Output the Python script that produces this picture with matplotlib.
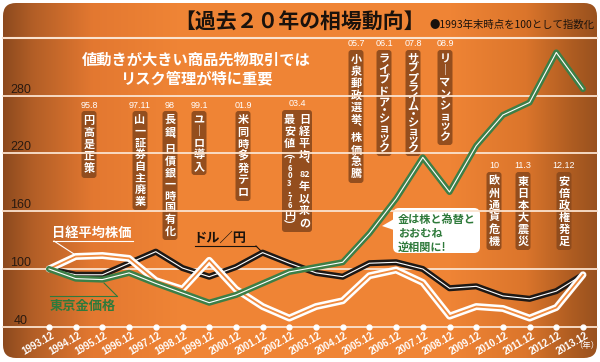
import re
import matplotlib.pyplot as plt
import numpy as np
from matplotlib.patches import FancyBboxPatch, Polygon

plt.rcParams['font.family'] = ['Noto Sans CJK JP', 'DejaVu Sans']

## Data (index, 1993.12 = 100)
years = ["1993.12", "1994.12", "1995.12", "1996.12", "1997.12", "1998.12", "1999.12",
         "2000.12", "2001.12", "2002.12", "2003.12", "2004.12", "2005.12", "2006.12",
         "2007.12", "2008.12", "2009.12", "2010.12", "2011.12", "2012.12", "2013.12"]
nikkei = [100, 113, 114, 111, 88, 79, 109, 79, 61, 49, 61, 67, 93, 99, 86, 51, 61, 59, 49, 60, 94]
dollar = [100, 94, 94, 106, 118, 101, 92, 102, 117, 106, 96, 92, 106, 107, 100, 80, 82, 72, 69, 77, 94]
gold = [100, 90, 89, 96, 85, 75, 65, 73, 85, 97, 102, 107, 137, 173, 216, 180, 228, 260, 273, 325, 287]
grid_values = [40, 100, 160, 220, 280]

event_dates = ["95.8", "97.11", "98", "99.1", "01.9", "03.4", "05.7", "06.1", "07.8",
               "08.9", "10", "11.3", "12.12"]
event_texts = ["円高是正策", "山一証券自主廃業", "長銀、日債銀一時国有化", "ユーロ導入",
               "米同時多発テロ", "日経平均、82年以来の|最安値（7603.76円）",
               "小泉郵政選挙、株価急騰", "ライブドア・ショック", "サブプライム・ショック",
               "リーマンショック", "欧州通貨危機", "東日本大震災", "安倍政権発足"]

## Layout of the event boxes in pixels: x centre, top, bottom
event_pos = [(89, 111, 178), (140, 111, 210), (170, 111, 240), (199, 111, 175),
             (243, 111, 201), (297, 110, 232), (356, 50, 183), (384, 50, 156),
             (413, 50, 156), (445, 50, 145), (494, 172, 250), (523, 172, 250),
             (564, 172, 250)]

W, H = 600, 362
fig = plt.figure(figsize=(W / 100, H / 100), dpi=100)

## Background panel (pixel coordinates)
bg = fig.add_axes([0, 0, 1, 1])
bg.set_xlim(0, W)
bg.set_ylim(H, 0)
bg.axis('off')

stops_x = [0, 0.05, 0.15, 0.30, 0.75, 0.88, 0.96, 1.0]
stops_c = [(0.55, 0.29, 0.12), (0.70, 0.37, 0.15), (0.89, 0.47, 0.19), (0.94, 0.52, 0.21),
           (0.94, 0.52, 0.21), (0.86, 0.46, 0.17), (0.68, 0.36, 0.13), (0.60, 0.32, 0.12)]
xs = np.linspace(0, 1, 600)
grad = np.stack([np.interp(xs, stops_x, [c[k] for c in stops_c]) for k in range(3)], axis=-1)
grad = np.repeat(grad[None, :, :], 2, axis=0)
panel = FancyBboxPatch((3, 3), 594, 355, boxstyle="round,pad=0,rounding_size=13",
                       facecolor='none', edgecolor='none')
bg.add_patch(panel)
im = bg.imshow(grad, extent=(3, 597, 358, 3), aspect='auto', interpolation='bilinear')
im.set_clip_path(panel)

bg.plot([3, 597], [38, 38], color='#fbe3cf', lw=1.5)

## Title
bg.text(300, 22, "【過去２０年の相場動向】", ha='center', va='center', fontsize=15,
        fontweight='bold', color='#1a120c')
bg.text(512, 25, "●1993年末時点を100として指数化", ha='center', va='center', fontsize=7.5,
        color='#1a120c')
bg.text(196, 60, "値動きが大きい商品先物取引では", ha='center', va='center', fontsize=11,
        fontweight='bold', color='white')
bg.text(196, 78, "リスク管理が特に重要", ha='center', va='center', fontsize=11,
        fontweight='bold', color='white')

## Event boxes with vertical text
vert = {"ー": "｜", "、": "︑", "（": "︵", "）": "︶"}
tiny = set("・、")
small = set("0123456789（）.")
small_kana = set("ャュョッァィゥェォ")


def weight(t):
    if t in tiny:
        return 0.55
    if t in small:
        return 0.62
    if t in small_kana:
        return 0.8
    return 1.0


def draw_column(x, top, bottom, col):
    toks = re.findall(r'\d{2}(?=年)|.', col)
    w = [weight(t) for t in toks]
    step = (bottom - top) / sum(w)
    y = top
    for t, wi in zip(toks, w):
        if t.isdigit():
            fs = 6.5 if len(t) == 2 else 5.5
        else:
            fs = 8
        bg.text(x, y + wi * step / 2, vert.get(t, t), ha='center', va='center',
                fontsize=fs, fontweight='bold', color='white')
        y += wi * step


for date, text, (cx, top, bot) in zip(event_dates, event_texts, event_pos):
    cols = text.split("|")
    bw = 15 * len(cols)
    bg.add_patch(FancyBboxPatch((cx - bw / 2, top), bw, bot - top,
                                boxstyle="round,pad=0,rounding_size=3",
                                facecolor='#8c4a1d', edgecolor='none', alpha=0.92))
    bg.text(cx, top - 6, date, ha='center', va='center', fontsize=6.5, color='white',
            family='Liberation Sans')
    for k, col in enumerate(cols):
        colx = cx + (len(cols) - 1 - 2 * k) * 7.5
        draw_column(colx, top + 3, bot - 3, col)

## Callout
bg.add_patch(FancyBboxPatch((393, 208), 87, 45, boxstyle="round,pad=0,rounding_size=6",
                            facecolor='white', edgecolor='none'))
bg.add_patch(Polygon([(394, 219), (382, 226), (394, 230)], closed=True,
                     facecolor='white', edgecolor='none'))
for t, yy in zip(["金は株と為替と", "おおむね", "逆相関に!"], [219, 233, 247]):
    bg.text(398, yy, t, ha='left', va='center', fontsize=8, fontweight='bold',
            color='#2f7a3b')

## Series labels
bg.text(92, 233, "日経平均株価", ha='center', va='center', fontsize=9.5,
        fontweight='bold', color='white')
bg.plot([53, 133], [241, 241], color='white', lw=0.8)
bg.plot([54, 74], [241, 254], color='white', lw=0.8)
bg.text(220, 238, "ドル／円", ha='center', va='center', fontsize=9.5,
        fontweight='bold', color='#1a120c')
bg.plot([195, 256], [246, 246], color='#1a120c', lw=0.8)
bg.plot([256, 262], [246, 252], color='#1a120c', lw=0.8)
bg.text(83, 306, "東京金価格", ha='center', va='center', fontsize=9.5,
        fontweight='bold', color='#2f7a3b')
bg.plot([50, 117], [296, 296], color='#2f7a3b', lw=0.8)
bg.plot([117, 104], [296, 283], color='#2f7a3b', lw=0.8)

## Data axes
ax = fig.add_axes([0, 0, 1, 1])
ax.patch.set_alpha(0)
ax.axis('off')
ax.set_xlim(-49 / 26.7, (W - 49) / 26.7)
ax.set_ylim(100 - (H - 269) / 0.9625, 100 + 269 / 0.9625)

for v in grid_values:
    ax.axhline(v, xmin=3 / W, xmax=597 / W, color='#fbe3cf', lw=1.3, zorder=1)
    ax.annotate(str(v), xy=(0.035, v), xycoords=('axes fraction', 'data'),
                xytext=(0, 6), textcoords='offset pixels', ha='center', va='center',
                fontsize=9, color='#2a1a10', family='Liberation Sans')

x = np.arange(len(years))
ax.plot(x, dollar, color='#1e1916', lw=4.4, solid_capstyle='round', zorder=3)
ax.plot(x, dollar, color='white', lw=0.8, zorder=3)
ax.plot(x, nikkei, color='white', lw=5.0, solid_capstyle='round', zorder=4)
ax.plot(x, nikkei, color='#ee8a3e', lw=1.3, zorder=4)
ax.plot(x, gold, color='#3d7f47', lw=4.4, solid_capstyle='round', zorder=5)
ax.plot(x, gold, color='white', lw=0.8, zorder=5)

ax.plot(x, np.full(len(x), grid_values[0]), 'o', color='white', ms=3.5, zorder=2)
for i, lab in enumerate(years):
    ax.annotate(lab, (i, grid_values[0]), xytext=(2, -4), textcoords='offset pixels',
                rotation=30, rotation_mode='anchor', ha='right', va='top',
                fontsize=7, fontweight='bold', color='white', family='Liberation Sans')
ax.annotate("（年）", (x[-1], grid_values[0]), xytext=(4, -19), textcoords='offset pixels',
            ha='center', va='center', fontsize=6, color='white')

fig.savefig('out.png', dpi=100)
